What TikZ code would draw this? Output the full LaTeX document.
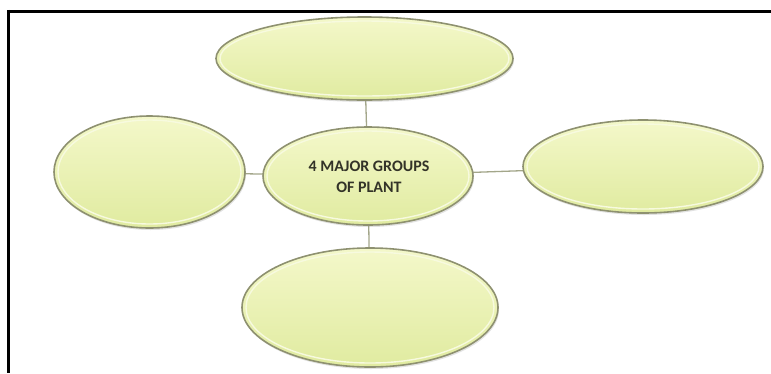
\documentclass[tikz,border=0pt]{standalone}
\usepackage{fontspec}
\setmainfont{Carlito}
\usetikzlibrary{shapes.geometric,shadows,calc}
\definecolor{bubbletop}{HTML}{F4F8CA}
\definecolor{bubblebot}{HTML}{E0EBA0}
\definecolor{bubbleedge}{HTML}{8E9170}
\definecolor{bubblerim}{HTML}{F7FADF}
\definecolor{linkcol}{HTML}{A3A68A}
\definecolor{labelcol}{HTML}{333328}
\begin{document}
\begin{tikzpicture}[x=1pt,y=-1pt,
  bubble/.style={ellipse, inner sep=0pt, draw=bubbleedge, line width=1.6pt,
    top color=bubbletop, bottom color=bubblebot,
    drop shadow={shadow xshift=1pt, shadow yshift=-2pt, fill=black!45, opacity=.25},
    path picture={
      \path[draw=bubblerim, line width=1.4pt]
        let \p1=(path picture bounding box.north east),
            \p2=(path picture bounding box.center)
        in (\p2) ellipse ({\x1-\x2-4pt} and {\y1-\y2-4pt});
    }},
  link/.style={draw=linkcol, line width=1.3pt},
  title/.style={font=\bfseries\fontsize{16}{20.5}\selectfont, text=labelcol, align=center}]
  \useasboundingbox (0,0) rectangle (771,373);
  % frame edges
  \draw[line width=3.5pt] (7,11.5) -- (771,11.5);
  \draw[line width=3.5pt] (8.5,9.75) -- (8.5,373);
  % links first, so the bubbles sit on top of them
  \coordinate (cTop) at (364.5,58.5);
  \coordinate (cMid) at (368,176);
  \coordinate (cLeft) at (149.5,172);
  \coordinate (cRight) at (643,166.5);
  \coordinate (cBot) at (370,307.5);
  \draw[link] (cTop) -- (cMid);
  \draw[link] (cLeft) -- (cMid);
  \draw[link] (cMid) -- (cRight);
  \draw[link] (cMid) -- (cBot);
  % bubbles
  \node[bubble, minimum width=297pt, minimum height=83pt] (top) at (cTop) {};
  \node[bubble, minimum width=191pt, minimum height=112pt] (left) at (cLeft) {};
  \node[bubble, minimum width=240pt, minimum height=93pt] (right) at (cRight) {};
  \node[bubble, minimum width=256pt, minimum height=119pt] (bottom) at (cBot) {};
  \node[bubble, minimum width=210pt, minimum height=98pt] (center) at (cMid) {};
  \node[title] (label) at (369,177) {4 MAJOR GROUPS\\OF PLANT};
\end{tikzpicture}
\end{document}
